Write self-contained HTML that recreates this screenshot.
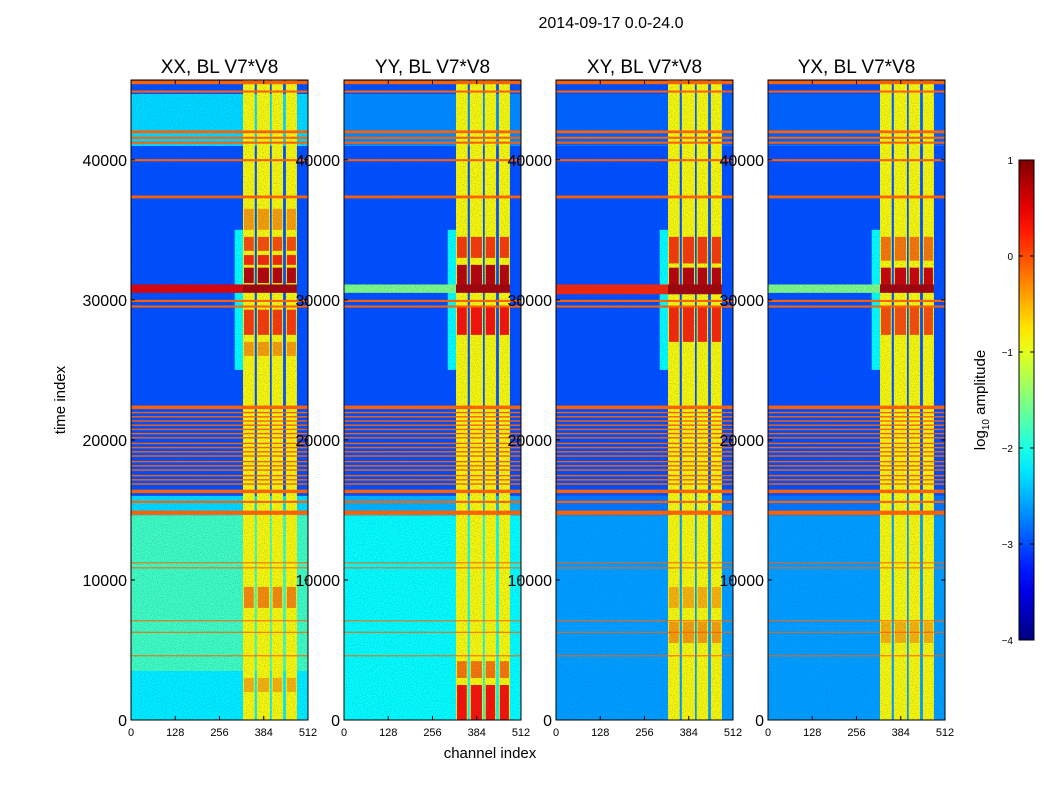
<!DOCTYPE html>
<html><head><meta charset="utf-8">
<style>
html,body{margin:0;padding:0;background:#fff;}
svg{display:block;font-family:"Liberation Sans",sans-serif;}
</style></head>
<body>
<svg id="fig" width="1050" height="800" viewBox="0 0 1050 800" xmlns="http://www.w3.org/2000/svg">
<defs>
<filter id="noise" x="0" y="0" width="100%" height="100%">
<feTurbulence type="fractalNoise" baseFrequency="0.9" numOctaves="1" seed="3"/>
<feColorMatrix type="matrix" values="0 0 0 0 0  0 0 0 0 0.1  0 0 0 0 0.6  0 0 0 -2.2 1.3"/>
</filter>
</defs>
<rect width="1050" height="800" fill="#fff"/>
<text x="611" y="28" font-size="16" text-anchor="middle">2014-09-17 0.0-24.0</text>
<text x="490" y="758" font-size="15" text-anchor="middle">channel index</text>
<text x="65" y="400" font-size="15" text-anchor="middle" transform="rotate(-90 65 400)">time index</text>
<g id="panels"></g>
<g id="cbar"></g>
</svg>
<script>
const panelTitles = ["XX, BL V7*V8","YY, BL V7*V8","XY, BL V7*V8","YX, BL V7*V8"];
const xTicks = [0,128,256,384,512];
const yTicks = [0,10000,20000,30000,40000];
const cbarTicks = [1,0,-1,-2,-3,-4];
// bright channel columns [chStart, chEnd]
const colStarts = [324,364,407,448];
const colEnds   = [358,402,440,480];
const colValue = -0.85;
// flagged rows [t0, t1] shared by all panels
const flags = [[45400,45650],[44800,44950],[41900,42100],[41500,41650],[41150,41300],[39900,40050],[37250,37450],
 [29850,30000],[29450,29600],
 [22200,22450],[21900,22000],[21600,21700],[21300,21400],[21000,21100],[20700,20800],[20400,20500],[20100,20200],
 [19700,19800],[19400,19500],[19100,19200],[18800,18900],[18400,18500],[18100,18200],[17800,17900],[17400,17500],
 [17100,17200],[16800,16900],[16200,16450],[15500,15650],[14650,14950],
 [11200,11260],[10850,10900],[7050,7120],[6250,6300],[4550,4620]];
const flagValue = -0.1;
// background segments [t0, t1, log10 amplitude]
const bgXX = [[0,3500,-2.2],[3500,14600,-1.8],[14600,16000,-2.3],[16000,41000,-3.0],[41000,44700,-2.3],[44700,45700,-3.0]];
const bgYY = [[0,14600,-2.1],[14600,16000,-2.5],[16000,41000,-3.0],[41000,44700,-2.7],[44700,45700,-3.0]];
const bgXY = [[0,14600,-2.6],[14600,16000,-2.8],[16000,41000,-3.0],[41000,44700,-2.9],[44700,45700,-3.0]];
const bgYX = [[0,14600,-2.6],[14600,16000,-2.8],[16000,41000,-3.0],[41000,44700,-2.9],[44700,45700,-3.0]];
// bright rows within the columns [t0, t1, value]
const blobXX = [[26000,27000,-0.4],[27500,29300,0.1],[31200,32300,0.7],[32500,33200,0.2],[33500,34500,0.0],[35000,36500,-0.4],[8000,9500,-0.3],[2000,3000,-0.5]];
const blobYY = [[27500,29500,0.3],[31000,32500,0.7],[33000,34500,0.1],[0,2500,0.3],[3000,4200,-0.2]];
const blobXY = [[27000,29500,0.2],[31000,32300,0.7],[32600,34500,0.1],[5500,7000,-0.4],[8000,9500,-0.5]];
const blobYX = [[27500,29500,0.0],[30800,32300,0.6],[32800,34500,-0.2],[5500,7000,-0.5]];
// broadband event row [t0, t1, value]
const bandXX = [30500,31100,0.5];
const bandYY = [30500,31100,-1.5];
const bandXY = [30400,31100,0.2];
const bandYX = [30500,31100,-1.5];

const bgs=[bgXX,bgYY,bgXY,bgYX], blobs=[blobXX,blobYY,blobXY,blobYX], bands=[bandXX,bandYY,bandXY,bandYX];
const panelX=[131,344,556,768], PW=177, PT=80, PB=720, TMAX=45700;
const NS="http://www.w3.org/2000/svg";
function jet(v){const n=Math.max(0,Math.min(1,(v+4)/5));const c=x=>Math.round(255*Math.max(0,Math.min(1,x)));
 return `rgb(${c(1.5-Math.abs(4*n-3))},${c(1.5-Math.abs(4*n-2))},${c(1.5-Math.abs(4*n-1))})`;}
function mk(tag,attrs,parent){const e=document.createElementNS(NS,tag);for(const k in attrs)e.setAttribute(k,attrs[k]);parent.appendChild(e);return e;}
const root=document.getElementById('panels');
panelTitles.forEach((title,p)=>{
 const x0=panelX[p];
 const sx=ch=>x0+ch/512*PW;
 const sy=t=>PB-t/TMAX*(PB-PT);
 const g=mk('g',{},root);
 
 
 const cp=mk('clipPath',{id:'cp'+p},g);mk('rect',{x:x0,y:PT,width:PW,height:PB-PT},cp);
 const h=mk('g',{'clip-path':'url(#cp'+p+')'},g);
 bgs[p].forEach(s=>{const r=mk('rect',{x:x0,y:sy(s[1]),width:PW,height:sy(s[0])-sy(s[1]),fill:jet(s[2])},h);
  });
 const halo=mk('rect',{x:sx(300),y:sy(35000),width:sx(324)-sx(300),height:sy(25000)-sy(35000),fill:jet(-2.1)},h);
 
 colStarts.forEach((c,i)=>{
  const r=mk('rect',{x:sx(c),y:PT,width:sx(colEnds[i])-sx(c),height:PB-PT,fill:jet(colValue)},h);
  
  blobs[p].forEach(b=>{const q=mk('rect',{x:sx(c)+1,y:sy(b[1]),width:sx(colEnds[i])-sx(c)-2,height:sy(b[0])-sy(b[1]),fill:jet(b[2])},h);
   });
 });
 const b=bands[p];
 const br=mk('rect',{x:x0,y:sy(b[1]),width:sx(324)-x0,height:sy(b[0])-sy(b[1]),fill:jet(b[2])},h);
 
 const br2=mk('rect',{x:sx(324),y:sy(b[1]),width:sx(480)-sx(324),height:sy(b[0])-sy(b[1]),fill:jet(0.8)},h);
 
 const nz=mk('rect',{x:x0,y:PT,width:PW,height:PB-PT,filter:'url(#noise)',opacity:0.35},h);
 
 flags.forEach(f=>{const r=mk('rect',{x:x0,y:sy(f[1]),width:PW,height:Math.max(1,sy(f[0])-sy(f[1])),fill:jet(flagValue)},h);
  });
 mk('rect',{x:x0,y:PT,width:PW,height:PB-PT,fill:'none',stroke:'#000','stroke-width':1},g);
 const tt=mk('text',{x:x0+PW/2,y:73,'font-size':19,'text-anchor':'middle'},g);tt.textContent=title;
 
 xTicks.forEach(v=>{const x=sx(v);
  mk('line',{x1:x,x2:x,y1:PB,y2:PB-4,stroke:'#000'},g);mk('line',{x1:x,x2:x,y1:PT,y2:PT+4,stroke:'#000'},g);
  const t=mk('text',{x:x,y:736,'font-size':11,'text-anchor':'middle'},g);t.textContent=v;
  });
 yTicks.forEach(v=>{const y=sy(v);
  mk('line',{x1:x0,x2:x0+4,y1:y,y2:y,stroke:'#000'},g);mk('line',{x1:x0+PW,x2:x0+PW-4,y1:y,y2:y,stroke:'#000'},g);
  const t=mk('text',{x:x0-4,y:y+6,'font-size':16,'text-anchor':'end'},g);t.textContent=v;
  });
});
const cb=document.getElementById('cbar');
const CX=1019,CW=15,CT=160,CB=640;
const defs=mk('defs',{},cb);const lg=mk('linearGradient',{id:'jetg',x1:0,y1:1,x2:0,y2:0},defs);
for(let i=0;i<=20;i++){const v=-4+5*i/20;mk('stop',{offset:i/20,'stop-color':jet(v)},lg);}
mk('rect',{x:CX,y:CT,width:CW,height:CB-CT,fill:'url(#jetg)',stroke:'#000','stroke-width':1},cb);
cbarTicks.forEach(v=>{const y=CB-(v+4)/5*(CB-CT);
 mk('line',{x1:CX,x2:CX+4,y1:y,y2:y,stroke:'#000'},cb);mk('line',{x1:CX+CW,x2:CX+CW-4,y1:y,y2:y,stroke:'#000'},cb);
 const t=mk('text',{x:1013,y:y+4,'font-size':10,'text-anchor':'end'},cb);t.textContent=(v<0?'\u2212'+(-v):v);
 });
const cl=mk('text',{x:985,y:400,'font-size':15,'text-anchor':'middle',transform:'rotate(-90 985 400)'},cb);
cl.innerHTML='log<tspan font-size="10" dy="4">10</tspan><tspan dy="-4"> amplitude</tspan>';

</script>
</body></html>
